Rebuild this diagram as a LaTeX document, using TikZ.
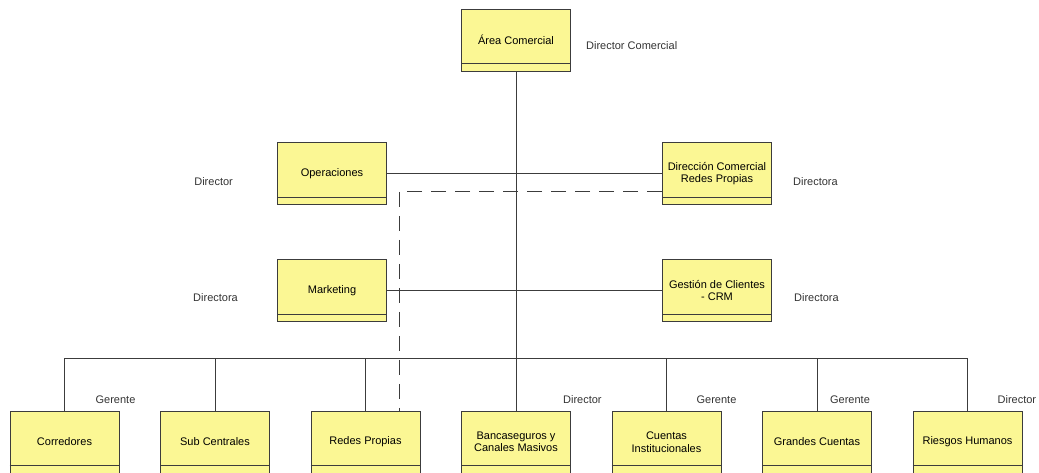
\documentclass[tikz,border=0pt]{standalone}
\usepackage{fontspec}
\setmainfont{Liberation Sans}
\usetikzlibrary{positioning}
\definecolor{boxfill}{RGB}{251,247,148}
\definecolor{linegray}{RGB}{60,60,60}

\begin{document}
\begin{tikzpicture}[node distance=150.5pt,on grid,
  unit/.style={draw=linegray,fill=boxfill,line width=0.9pt,minimum width=109pt,
    minimum height=62pt,inner sep=1pt,align=center,font=\fontsize{11}{12.5}\selectfont},
  role/.style={inner sep=0pt,text=black!80,font=\fontsize{11}{12.5}\selectfont},
  link/.style={draw=linegray,line width=0.9pt}]
  \useasboundingbox (0,0) rectangle (1039pt,-472pt);
  \node[unit] (area) at (516pt,-40pt) {Área Comercial};
  \node[unit] (oper) [below left=133.5pt and 184pt of area] {Operaciones};
  \node[unit] (dircom) [below right=133.5pt and 201pt of area] {Dirección Comercial\\Redes Propias};
  \node[unit] (mkt) [below=117pt of oper] {Marketing};
  \node[unit] (gest) [below=117pt of dircom] {Gestión de Clientes\\- CRM};
  \node[unit] (banca) [below=402pt of area] {Bancaseguros y\\Canales Masivos};
  \node[unit] (redes) [left=of banca] {Redes Propias};
  \node[unit] (subc) [left=of redes] {Sub Centrales};
  \node[unit] (corr) [left=of subc] {Corredores};
  \node[unit] (cuentas) [right=of banca] {Cuentas\\Institucionales};
  \node[unit] (grandes) [right=of cuentas] {Grandes Cuentas};
  \node[unit] (riesgos) [right=of grandes] {Riesgos Humanos};
  \foreach \n in {area,oper,dircom,mkt,gest,banca,redes,subc,corr,cuentas,grandes,riesgos}
    \draw[link] ([yshift=8pt]\n.south west) -- ([yshift=8pt]\n.south east);

  \coordinate (bus) at ([yshift=52.5pt]banca.north);
  \draw[link] (area) -- (banca);
  \draw[link] (corr.north) |- (bus) -| (riesgos.north);
  \foreach \n in {subc,redes,cuentas,grandes}
    \draw[link] (\n.north) -- (\n.north |- bus);
  \draw[link] (oper) -- (dircom);
  \draw[link] (mkt) -- (gest);
  \draw[link,dash pattern=on 15pt off 9pt] ([yshift=-17.5pt]dircom.west) -| ([xshift=33.5pt]redes.north);

  \node[role,anchor=west] (rarea) at ([xshift=15pt,yshift=-6pt]area.east) {Director Comercial};
  \node[role,anchor=east] (roper) at ([xshift=-44pt,yshift=-8.5pt]oper.west) {Director};
  \node[role,anchor=west] (rdircom) at ([xshift=21pt,yshift=-8.5pt]dircom.east) {Directora};
  \node[role,anchor=east] (rmkt) at ([xshift=-39pt,yshift=-7.5pt]mkt.west) {Directora};
  \node[role,anchor=west] (rgest) at ([xshift=22pt,yshift=-7.5pt]gest.east) {Directora};
  \node[role,anchor=west] (rcorr) at ([xshift=-24pt,yshift=10.5pt]corr.north east) {Gerente};
  \node[role,anchor=west] (rbanca) at ([xshift=-8pt,yshift=10.5pt]banca.north east) {Director};
  \node[role,anchor=west] (rcuentas) at ([xshift=-25pt,yshift=10.5pt]cuentas.north east) {Gerente};
  \node[role,anchor=west] (rgrandes) at ([xshift=-42pt,yshift=10.5pt]grandes.north east) {Gerente};
  \node[role,anchor=west] (rriesgos) at ([xshift=-25pt,yshift=10.5pt]riesgos.north east) {Director};
\end{tikzpicture}
\end{document}
